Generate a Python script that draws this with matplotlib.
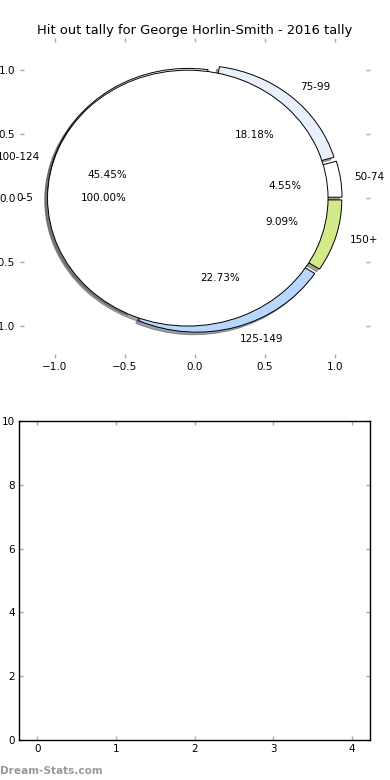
import matplotlib
matplotlib.use("Agg")
import matplotlib.pyplot as plt

title = "Hit out tally for George Horlin-Smith - 2016 tally"

# exploded pie (drawn first, mostly hidden under the full pie)
range_labels = ["50-74", "75-99", "100-124", "125-149", "150+"]
range_counts = [1, 4, 10, 5, 2]
range_colors = ["#ffffff", "#e8f0fd", "#ffffff", "#b9d7fd", "#d3ea8b"]

# full pie on top
full_labels = ["0-5"]
full_counts = [1]
full_colors = ["#ffffff"]

bar_xticks = [0, 1, 2, 3, 4]
bar_yticks = [0, 2, 4, 6, 8, 10]

plt.rcParams["font.family"] = "DejaVu Sans"
fig = plt.figure(figsize=(3.9, 7.8), dpi=100)

tick_gray = "#aaaaaa"
wedge_style = {"edgecolor": "black", "linewidth": 0.7}
shadow_style = {"ox": -0.0144, "oy": -0.0144}

# -----------------------
# pie axes
# -----------------------
ax1 = fig.add_axes([0.05, 0.541, 0.899, 0.410])

ax1.pie(
    range_counts,
    labels=range_labels,
    colors=range_colors,
    explode=[0.05] * len(range_counts),
    autopct="%1.2f%%",
    shadow=shadow_style,
    wedgeprops=wedge_style,
    textprops={"fontsize": 7.5},
    frame=True,
)
ax1.pie(
    full_counts,
    labels=full_labels,
    colors=full_colors,
    explode=[0.05] * len(full_counts),
    autopct="%1.2f%%",
    shadow=shadow_style,
    wedgeprops=wedge_style,
    textprops={"fontsize": 7.5},
    frame=True,
)
ax1.set_aspect("auto")
ax1.set_xlim(-1.25, 1.25)
ax1.set_ylim(-1.25, 1.25)
ax1.set_xticks([-1.0, -0.5, 0.0, 0.5, 1.0])
ax1.set_yticks([-1.0, -0.5, 0.0, 0.5, 1.0])
for s in ax1.spines.values():
    s.set_visible(False)
ax1.tick_params(direction="in", length=3, width=1, color=tick_gray,
                top=True, right=True, labelsize=7.5, pad=3)
ax1.set_title(title, fontsize=9.4, pad=3)

# -----------------------
# empty bar axes
# -----------------------
ax2 = fig.add_axes([0.049, 0.0513, 0.900, 0.4090])
ax2.set_xlim(-0.23, 4.23)
ax2.set_ylim(0, 10)
ax2.set_xticks(bar_xticks)
ax2.set_yticks(bar_yticks)
for s in ax2.spines.values():
    s.set_linewidth(1.0)
ax2.tick_params(direction="in", length=3, width=1, color=tick_gray,
                top=True, right=True, labelsize=7.5, pad=3)

fig.text(0.0, 0.005, "Dream-Stats.com", fontsize=7.6, fontweight="bold",
         color="#999999", ha="left", va="bottom")

fig.savefig("out.png", dpi=100)
